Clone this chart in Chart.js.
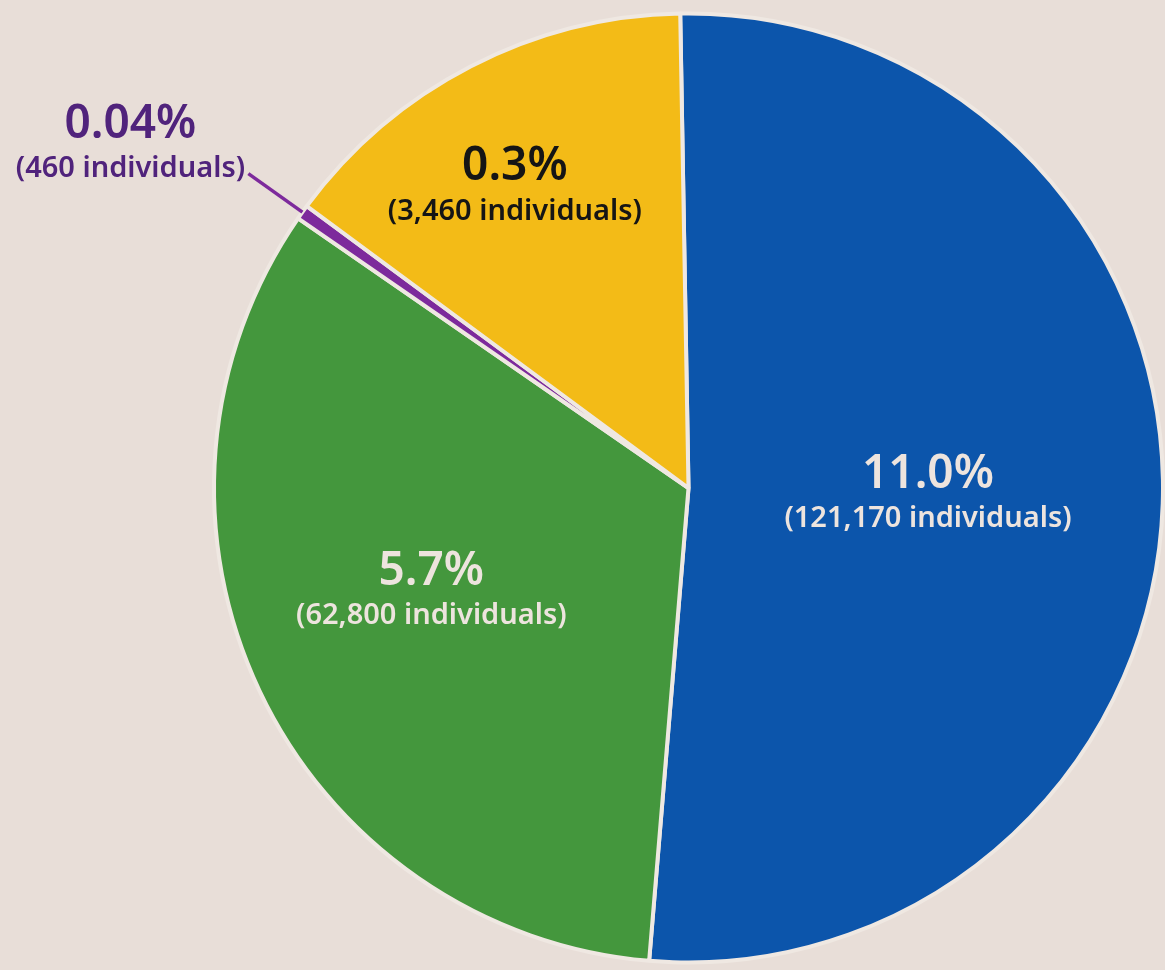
<!DOCTYPE html>
<html>
<head>
<meta charset="utf-8">
<script src="https://cdn.jsdelivr.net/npm/chart.js@4.4.1/dist/chart.umd.min.js"></script>
<style>
  html, body { margin: 0; padding: 0; background: #e8ded8; }
  #wrap { width: 1165px; height: 970px; }
</style>
</head>
<body>
<div id="wrap"><canvas id="pieChart" width="1165" height="970"></canvas></div>
<script>
// slice shares as drawn (share of the circle, %)
var groups = ["Blue", "Green", "Purple", "Yellow"];
var shares = [51.6, 33.3, 0.5, 14.6];
var pctLabels = ["11.0%", "5.7%", "0.04%", "0.3%"];
var countLabels = ["(121,170 individuals)", "(62,800 individuals)", "(460 individuals)", "(3,460 individuals)"];

var sliceColors = ['#0c55ab', '#44973d', '#7d2a9c', '#f3bb17'];
var textColors = ['#ede4de', '#ede4de', '#50237c', '#151515'];

// where each label sits: fraction of radius + angle nudge (deg)
var labelPlace = [
  { r: 0.505, da: 0 },
  { r: 0.585, da: 3.2 },
  { r: 1.38, da: -4.0, leader: [1.0, 1.14] },
  { r: 0.73, da: -2.8 }
];

var sliceLabels = {
  id: 'sliceLabels',
  afterDraw: function(chart) {
    var ctx = chart.ctx;
    var arcs = chart.getDatasetMeta(0).data;
    ctx.save();
    ctx.textAlign = 'center';
    ctx.textBaseline = 'middle';
    arcs.forEach(function(arc, i) {
      var p = labelPlace[i];
      var mid = (arc.startAngle + arc.endAngle) / 2;
      var R = arc.outerRadius;
      if (p.leader) {
        ctx.strokeStyle = sliceColors[i];
        ctx.lineWidth = 3.5;
        ctx.beginPath();
        ctx.moveTo(arc.x + Math.cos(mid) * R * p.leader[0], arc.y + Math.sin(mid) * R * p.leader[0]);
        ctx.lineTo(arc.x + Math.cos(mid) * R * p.leader[1], arc.y + Math.sin(mid) * R * p.leader[1]);
        ctx.stroke();
      }
      var a = mid + p.da * Math.PI / 180;
      var cx = arc.x + Math.cos(a) * R * p.r;
      var cy = arc.y + Math.sin(a) * R * p.r;
      ctx.fillStyle = textColors[i];
      ctx.font = '600 46px "Noto Sans", "Open Sans", sans-serif';
      ctx.fillText(pctLabels[i], cx, cy - 21);
      ctx.font = '600 29px "Noto Sans", "Open Sans", sans-serif';
      ctx.fillText(countLabels[i], cx, cy + 23);
    });
    ctx.restore();
  }
};

var ctx = document.getElementById('pieChart').getContext('2d');
var chart = new Chart(ctx, {
  type: 'pie',
  data: {
    labels: groups,
    datasets: [{
      data: shares,
      backgroundColor: sliceColors,
      borderColor: '#efe8e2',
      borderWidth: 4
    }]
  },
  options: {
    responsive: false,
    animation: false,
    devicePixelRatio: 1,
    rotation: -1,
    layout: { padding: { left: 212, right: 0, top: 8, bottom: 2 } },
    plugins: {
      legend: { display: false },
      tooltip: { enabled: false }
    }
  },
  plugins: [sliceLabels]
});
</script>
</body>
</html>
